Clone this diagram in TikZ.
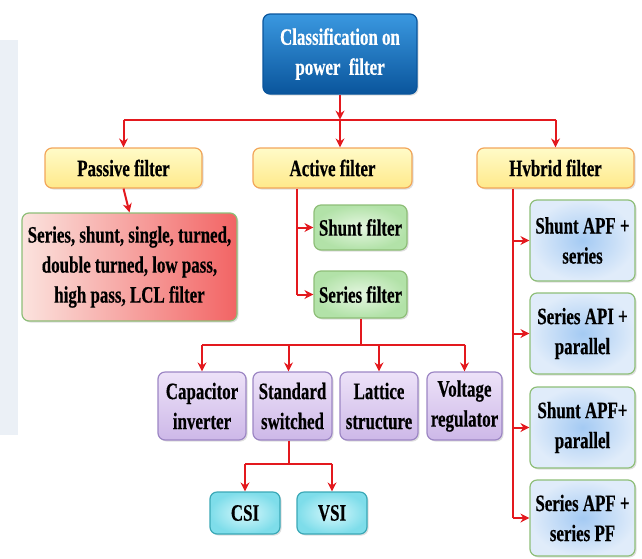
\documentclass[tikz,border=0pt]{standalone}
\usepackage{fontspec}
\setmainfont{Liberation Serif}[FakeStretch=0.72, BoldFeatures={FakeBold=0.4}]
\usetikzlibrary{arrows.meta,shadows}
\definecolor{arrred}{HTML}{E3191E}
\definecolor{blueA}{HTML}{3A98E0}
\definecolor{blueB}{HTML}{0A559C}
\definecolor{yelA}{HTML}{FFFBC8}
\definecolor{yelB}{HTML}{FFE98A}
\definecolor{orbrd}{HTML}{F2A65A}
\definecolor{redA}{HTML}{FBE3DE}
\definecolor{redB}{HTML}{F26464}
\definecolor{grbrd}{HTML}{8EBE78}
\definecolor{grA}{HTML}{E6F7E2}
\definecolor{grB}{HTML}{B2E2A8}
\definecolor{puA}{HTML}{EDE2F8}
\definecolor{puB}{HTML}{CDB8E8}
\definecolor{pubrd}{HTML}{9C86C4}
\definecolor{cyA}{HTML}{D8F8FC}
\definecolor{cyB}{HTML}{7EDDEA}
\definecolor{cybrd}{HTML}{3AA8B6}
\definecolor{blA}{HTML}{A4CAF3}
\definecolor{blB}{HTML}{E0ECFA}
\definecolor{bgpale}{HTML}{EBF0F6}
\begin{document}
\begin{tikzpicture}[x=1pt,y=-1pt,
  font=\fontsize{23.5}{30}\selectfont\bfseries,
  box/.style={rounded corners=7pt, align=center, inner sep=1pt, line width=1.2pt,
    drop shadow={opacity=0.25, shadow xshift=1.5pt, shadow yshift=-1.5pt}},
  topbox/.style={box, draw=blueB, top color=blueA, bottom color=blueB, text=white},
  yelbox/.style={box, draw=orbrd, top color=yelA, bottom color=yelB},
  redbox/.style={box, draw=grbrd, left color=redA, right color=redB},
  grbox/.style={box, draw=grbrd, inner color=grA, outer color=grB},
  pubox/.style={box, draw=pubrd, top color=puA, bottom color=puB},
  cybox/.style={box, draw=cybrd, inner color=cyA, outer color=cyB},
  blbox/.style={box, draw=grbrd, inner color=blA, outer color=blB},
  link/.style={draw=arrred, line width=2pt},
  arr/.style={link, -{Stealth[length=9pt,width=9pt]}}
]
\useasboundingbox (0,0) rectangle (642,558);
\fill[bgpale] (0,40) rectangle (18,435);

\node[topbox, minimum width=154pt, minimum height=80pt] (top) at (340,54) {Classification on\\power\ \ filter};

\node[yelbox, minimum width=157pt, minimum height=40pt] (passive) at (123.5,168) {Passive filter};
\node[yelbox, minimum width=159pt, minimum height=40pt] (active) at (332.5,168) {Active filter};
\node[yelbox, minimum width=157pt, minimum height=40pt] (hybrid) at (555.5,168) {Hvbrid filter};

\node[redbox, minimum width=215pt, minimum height=108pt] (pdet) at (129.5,267) {Series, shunt, single, turned,\\double turned, low pass,\\high pass, LCL filter};

\node[grbox, minimum width=93pt, minimum height=45pt] (shunt) at (360.5,227.5) {Shunt filter};
\node[grbox, minimum width=93pt, minimum height=47pt] (series) at (360.5,294.5) {Series filter};

\node[pubox, minimum width=88pt, minimum height=68pt] (cap) at (202,406) {Capacitor\\inverter};
\node[pubox, minimum width=79pt, minimum height=68pt] (std) at (292.5,406) {Standard\\switched};
\node[pubox, minimum width=78pt, minimum height=68pt] (lat) at (379,406) {Lattice\\structure};
\node[pubox, minimum width=75pt, minimum height=68pt] (volt) at (464.5,406) {Voltage\\regulator};

\node[cybox, minimum width=70pt, minimum height=42pt] (csi) at (245,513) {CSI};
\node[cybox, minimum width=70pt, minimum height=42pt] (vsi) at (332,513) {VSI};

\node[blbox, minimum width=105pt, minimum height=81pt] (h1) at (582.5,240.5) {Shunt APF +\\series};
\node[blbox, minimum width=105pt, minimum height=81pt] (h2) at (582.5,333.5) {Series API +\\parallel};
\node[blbox, minimum width=105pt, minimum height=81pt] (h3) at (582.5,427.5) {Shunt APF+\\parallel};
\node[blbox, minimum width=105pt, minimum height=76pt] (h4) at (582.5,518) {Series APF +\\series PF};

% top level
\path (top.south) ++(0,25) coordinate (tj);
\draw[arr] (top.south) -- (tj);
\draw[link] (passive.north |- tj) -- (hybrid.north |- tj);
\draw[arr] (passive.north |- tj) -- (passive.north);
\draw[arr] (tj) -- (tj |- active.north);
\draw[arr] (hybrid.north |- tj) -- (hybrid.north);

% passive
\draw[arr] (passive.south) -- (pdet.north);

% active
\coordinate (av) at ([xshift=-35.5pt]active.south);
\draw[link] (av) -- (av |- series.west);
\draw[arr] (av |- shunt.west) -- (shunt.west);
\draw[arr] (av |- series.west) -- (series.west);

% series filter branches
\path (series.south) ++(0,26) coordinate (sj);
\draw[link] (series.south) -- (sj);
\draw[link] (sj -| cap.north) -- (sj -| volt.north);
\draw[arr] (sj -| cap.north) -- (cap.north);
\draw[arr] ([xshift=-4pt]std.north |- sj) -- ([xshift=-4pt]std.north);
\draw[arr] (sj -| lat.north) -- (lat.north);
\draw[arr] (sj -| volt.north) -- (volt.north);

% standard switched branches
\coordinate (ss) at ([xshift=-4pt]std.south);
\path (ss) ++(0,23) coordinate (cj);
\draw[link] (ss) -- (cj);
\draw[link] (cj -| csi.north) -- (cj -| vsi.north);
\draw[arr] (cj -| csi.north) -- (csi.north);
\draw[arr] (cj -| vsi.north) -- (vsi.north);

% hybrid
\coordinate (hv) at ([xshift=-42.5pt]hybrid.south);
\draw[link] (hv) -- (hv |- h4.west);
\draw[arr] (hv |- h1.west) -- (h1.west);
\draw[arr] (hv |- h2.west) -- (h2.west);
\draw[arr] (hv |- h3.west) -- (h3.west);
\draw[arr] (hv |- h4.west) -- (h4.west);
\end{tikzpicture}
\end{document}
